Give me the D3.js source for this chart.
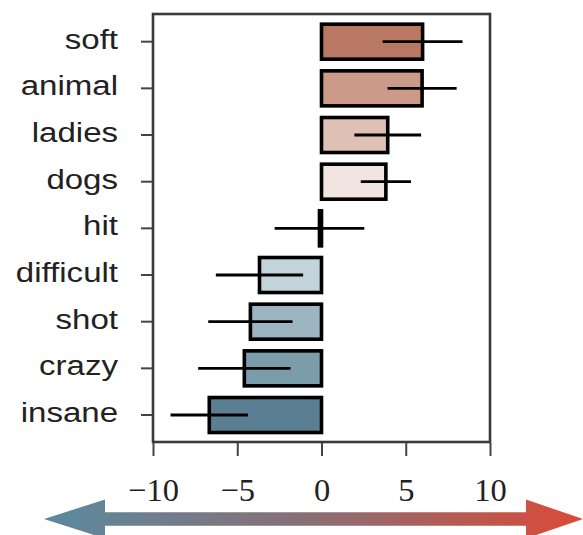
<!DOCTYPE html>
<html>
<head>
<meta charset="utf-8">
<script src="https://cdn.jsdelivr.net/npm/d3@7"></script>
<style>
  html, body { margin: 0; padding: 0; background: #fff; }
  svg { display: block; }
</style>
</head>
<body>
<svg id="chart" width="583" height="535"></svg>
<script>
const words  = ["soft", "animal", "ladies", "dogs", "hit", "difficult", "shot", "crazy", "insane"];
const values = [6.0, 5.97, 3.93, 3.82, -0.12, -3.68, -4.22, -4.58, -6.66];
const errors = [2.37, 2.05, 1.98, 1.49, 2.66, 2.59, 2.5, 2.74, 2.3];
const colors = ["#b97864", "#cc9a89", "#dfc0b5", "#f2e4e0", "#ffffff", "#c2d3dc", "#9db5c0", "#7b9ca9", "#5a7f92"];
const xTicks = [-10, -5, 0, 5, 10];

const svg = d3.select("#chart");
const L = 153, R = 490, T = 14, B = 442;

const x = d3.scaleLinear().domain([-10, 10]).range([L, R]);
const y = d3.scaleBand().domain(words).range([T + 4.35, B - 3.65]).paddingInner(0).paddingOuter(0);
const barH = y.bandwidth() * 0.75;

// bars
svg.append("g").selectAll("rect").data(words).join("rect")
  .attr("x", (d, i) => x(Math.min(0, values[i])))
  .attr("width", (d, i) => Math.abs(x(values[i]) - x(0)))
  .attr("y", d => y(d) + (y.bandwidth() - barH) / 2)
  .attr("height", barH)
  .attr("fill", (d, i) => colors[i])
  .attr("stroke", "#000")
  .attr("stroke-width", 3.6);

// error bars
svg.append("g").selectAll("line").data(words).join("line")
  .attr("x1", (d, i) => x(values[i] - errors[i]))
  .attr("x2", (d, i) => x(values[i] + errors[i]))
  .attr("y1", d => y(d) + y.bandwidth() / 2)
  .attr("y2", d => y(d) + y.bandwidth() / 2)
  .attr("stroke", "#000")
  .attr("stroke-width", 2.8);

// frame
svg.append("rect")
  .attr("x", L).attr("y", T).attr("width", R - L).attr("height", B - T)
  .attr("fill", "none").attr("stroke", "#3a3a3a").attr("stroke-width", 2.6);

// y axis
const yAxis = d3.axisLeft(y).tickSize(11).tickPadding(23);
const gy = svg.append("g").attr("transform", `translate(${L - 1},0)`).call(yAxis);
gy.select(".domain").remove();
gy.selectAll(".tick line").attr("stroke", "#444").attr("stroke-width", 2);
gy.selectAll(".tick text")
  .attr("fill", "#222")
  .style("font-family", "'Liberation Sans', Arial, Helvetica, sans-serif")
  .style("font-size", "28px")
  .attr("dy", "0.25em")
  .attr("transform", function() {
    const xx = +d3.select(this).attr("x");
    return `translate(${xx},0) scale(1.18,1) translate(${-xx},0)`;
  });

// x axis
const xAxis = d3.axisBottom(x).tickValues(xTicks).tickSize(13).tickPadding(0)
  .tickFormat(d => d < 0 ? "\u2212" + Math.abs(d) : String(d));
const gx = svg.append("g").attr("transform", `translate(0,${B + 1})`).call(xAxis);
gx.select(".domain").remove();
gx.selectAll(".tick line").attr("stroke", "#444").attr("stroke-width", 2);
gx.selectAll(".tick text")
  .attr("fill", "#222")
  .attr("y", 58).attr("dy", 0)
  .style("font-family", "'Liberation Serif', 'DejaVu Serif', serif")
  .style("font-size", "32.5px");

// gradient arrow
const defs = svg.append("defs");
const grad = defs.append("linearGradient").attr("id", "arrowGrad")
  .attr("x1", "0%").attr("x2", "100%").attr("y1", "0%").attr("y2", "0%");
grad.append("stop").attr("offset", "0%").attr("stop-color", "#5a8a9f");
grad.append("stop").attr("offset", "50%").attr("stop-color", "#8a6e74");
grad.append("stop").attr("offset", "100%").attr("stop-color", "#db4a37");

const ay = 519, tipL = 44, baseL = 105, baseR = 526, tipR = 583, headH = 19.5, shaftH = 6.8;
const pts = [
  [tipL, ay], [baseL, ay - headH], [baseL, ay - shaftH], [baseR, ay - shaftH],
  [baseR, ay - headH], [tipR, ay], [baseR, ay + headH], [baseR, ay + shaftH],
  [baseL, ay + shaftH], [baseL, ay + headH]
];
svg.append("path")
  .attr("d", d3.line()(pts) + "Z")
  .attr("fill", "url(#arrowGrad)");
</script>
</body>
</html>
